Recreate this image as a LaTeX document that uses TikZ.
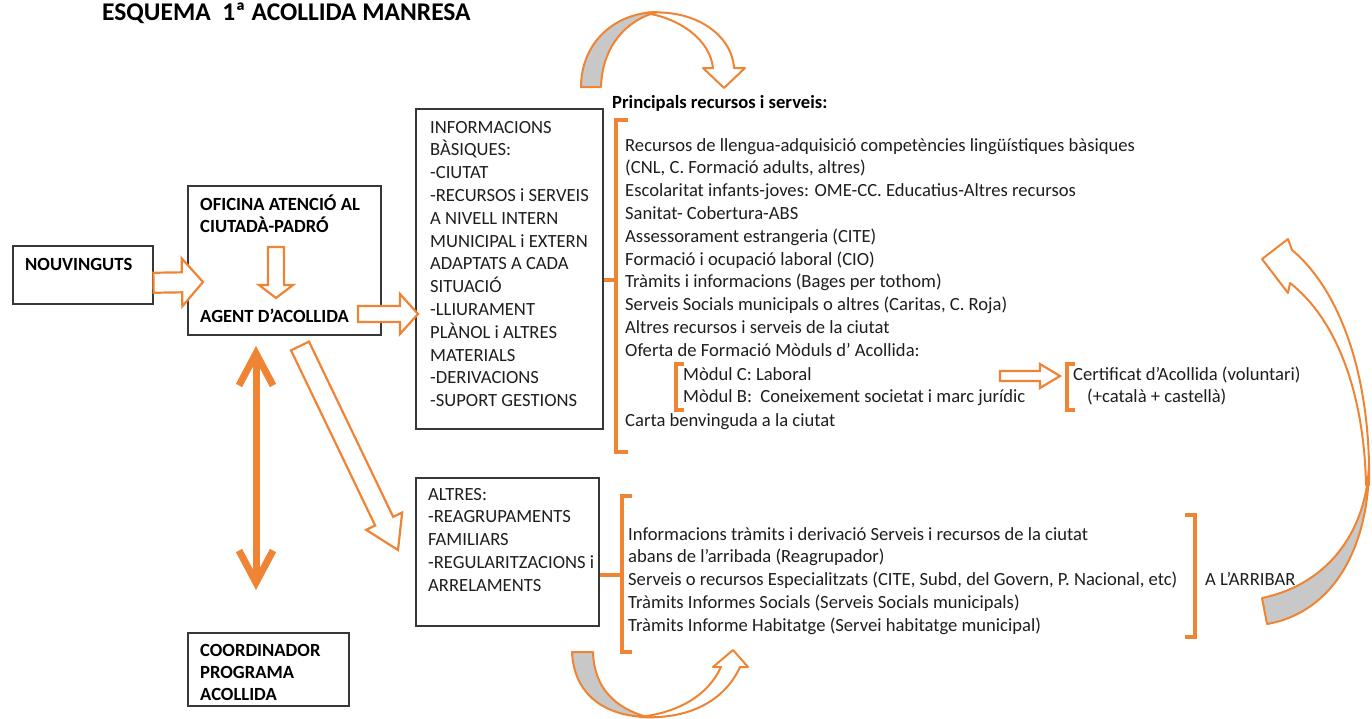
\documentclass[tikz,border=0pt]{standalone}
\usepackage{fontspec}
\setmainfont{Carlito}
\usetikzlibrary{calc,arrows.meta}
\definecolor{acorange}{RGB}{238,132,52}
\definecolor{acgray}{RGB}{200,200,200}
\definecolor{boxline}{RGB}{55,55,55}
\definecolor{txtgray}{RGB}{30,30,30}
\newcommand\bodyfont{\fontsize{18.6}{22.8}\selectfont}
\tikzset{
BOX/.style={draw=boxline, line width=1.5pt, anchor=north west, inner sep=0pt},
TXT/.style={anchor=north west, align=left, inner sep=0pt, text=txtgray, font=\bodyfont},
BTXT/.style={TXT, text=black, font=\bodyfont\bfseries},
HOLLOW/.style={draw=acorange, fill=white, line width=2.2pt, line join=miter},
RIBBON/.style={draw=acorange, line width=2pt, line join=round},
BRACKET/.style={draw=acorange, line width=3.4pt},
}
% hollow block arrow: from, to, half shaft, half head, head length
\newcommand\blockarrow[5]{%
  \coordinate (ba) at ($(#2)!#5!(#1)$);
  \draw[HOLLOW] ($(#1)!#3!90:(#2)$) -- ($(ba)!#3!90:(#2)$) -- ($(ba)!#4!90:(#2)$) -- (#2)
    -- ($(ba)!#4!-90:(#2)$) -- ($(ba)!#3!-90:(#2)$) -- ($(#1)!#3!-90:(#2)$) -- cycle;
}
\begin{document}
\begin{tikzpicture}[x=1pt,y=-1pt]
\useasboundingbox (0,0) rectangle (1372,718);
\node[anchor=north west, inner sep=0pt, font=\fontsize{25.5}{28}\selectfont\bfseries] (title) at (102,1)
	{\strut ESQUEMA\ \ 1ª ACOLLIDA MANRESA};
%Boxes
\node[BOX, minimum width=140pt, minimum height=58pt] (nouv) at (12,245) {};
\node[BOX, minimum width=193pt, minimum height=149pt] (ofic) at (187,185) {};
\node[BOX, minimum width=187pt, minimum height=320pt] (info) at (415,108) {};
\node[BOX, minimum width=183pt, minimum height=148pt] (altres) at (415,477) {};
\node[BOX, minimum width=161pt, minimum height=73pt] (coord) at (187,632) {};
\node[BTXT] (nouvtxt) at (25,254) {\strut NOUVINGUTS};
\node[BTXT] (ofictxt) at (200,194) {\strut OFICINA ATENCIÓ AL\\CIUTADÀ-PADRÓ};
\node[BTXT] (agent) at (200,306) {\strut AGENT D’ACOLLIDA};
\node[BTXT, font=\fontsize{18.6}{22}\selectfont\bfseries] (coordtxt) at (200,641) {\strut COORDINADOR\\PROGRAMA\\ACOLLIDA};
\node[TXT] (infotxt) at (430,117) {\strut INFORMACIONS\\BÀSIQUES:\\-CIUTAT\\-RECURSOS i SERVEIS\\A NIVELL INTERN\\MUNICIPAL i EXTERN\\ADAPTATS A CADA\\SITUACIÓ\\-LLIURAMENT\\PLÀNOL i ALTRES\\MATERIALS\\-DERIVACIONS\\-SUPORT GESTIONS};
\node[TXT] (altrestxt) at (428,484) {\strut ALTRES:\\-REAGRUPAMENTS\\FAMILIARS\\-REGULARITZACIONS i\\ARRELAMENTS};
%Resources
\node[BTXT] (princ) at (612,92) {\strut Principals recursos i serveis:};
\node[TXT] (recursos) at (625,135) {\strut Recursos de llengua-adquisició competències lingüístiques bàsiques\\
	(CNL, C. Formació adults, altres)\\
	Escolaritat infants-joves: OME-CC. Educatius-Altres recursos\\
	Sanitat- Cobertura-ABS\\
	Assessorament estrangeria (CITE)\\
	Formació i ocupació laboral (CIO)\\
	Tràmits i informacions (Bages per tothom)\\
	Serveis Socials municipals o altres (Caritas, C. Roja)\\
	Altres recursos i serveis de la ciutat\\
	Oferta de Formació Mòduls d’ Acollida:};
\node[TXT] (moduls) at (683,364) {\strut Mòdul C: Laboral\\Mòdul B:\ \ Coneixement societat i marc jurídic};
\node[TXT] (carta) at (625,410) {\strut Carta benvinguda a la ciutat};
\node[TXT] (certif) at (1073,364) {\strut Certificat d’Acollida (voluntari)\\\hspace*{14pt}(+català + castellà)};
\node[TXT] (arribada) at (628,524) {\strut Informacions tràmits i derivació Serveis i recursos de la ciutat\\
	abans de l’arribada (Reagrupador)\\
	Serveis o recursos Especialitzats (CITE, Subd, del Govern, P. Nacional, etc)\\
	Tràmits Informes Socials (Serveis Socials municipals)\\
	Tràmits Informe Habitatge (Servei habitatge municipal)};
\node[TXT] (arribar) at (1205,569) {\strut A L’ARRIBAR};
%Brackets
\draw[BRACKET] (628,120) -- (616,120) -- (616,452) -- (628,452);
\draw[BRACKET] (616,280) -- (info.east |- 0,280);
\draw[BRACKET] (684,364) -- (676,364) -- (676,410) -- (684,410);
\draw[BRACKET] (1075,364) -- (1067,364) -- (1067,410) -- (1075,410);
\draw[BRACKET] (632,496) -- (622,496) -- (622,652) -- (632,652);
\draw[BRACKET] (622,575) -- (altres.east |- 0,575);
\draw[BRACKET] (1185,515) -- (1195,515) -- (1195,637) -- (1185,637);
%Block arrows
\coordinate (n1) at ([yshift=-8pt]nouv.east);
\coordinate (n2) at (203,282);
\blockarrow{n1}{n2}{10pt}{24pt}{21pt}
\coordinate (o1) at (276,247);
\coordinate (o2) at (276,298);
\blockarrow{o1}{o2}{8pt}{17pt}{13pt}
\coordinate (g1) at (358,314);
\coordinate (g2) at (418,314);
\blockarrow{g1}{g2}{8pt}{20pt}{18pt}
\coordinate (d1) at (300,346);
\coordinate (d2) at (398,550);
\blockarrow{d1}{d2}{10pt}{20pt}{32pt}
\coordinate (m1) at (1000,376);
\coordinate (m2) at (1060,376);
\blockarrow{m1}{m2}{5pt}{12pt}{20pt}
%Coordinator link
\coordinate (c1) at (256,346);
\coordinate (c2) at (256,590);
\draw[acorange, line width=7pt, {Straight Barb[length=32pt,width=34pt]}-{Straight Barb[length=32pt,width=34pt]}] (c1) -- (c2);
%Curved arrows
\path[RIBBON, fill=white] (645,13) .. controls (695,8) and (732,35) .. (734,68) -- (745,68) -- (724,88) -- (703,68) -- (713,68)
	.. controls (710,40) and (680,18) .. (645,13) -- cycle;
\path[RIBBON, fill=acgray] (581,87) .. controls (581,45) and (612,13) .. (657,12)
	.. controls (626,20) and (602,47) .. (601,87) -- cycle;
\path[RIBBON, fill=white] (640,717) .. controls (690,720) and (725,700) .. (740,667) -- (748,667) -- (733,650) -- (713,667) -- (721,667)
	.. controls (708,695) and (680,712) .. (640,717) -- cycle;
\path[RIBBON, fill=acgray] (572,652) .. controls (574,695) and (605,716) .. (647,717)
	.. controls (615,708) and (594,688) .. (593,652) -- cycle;
\path[RIBBON, fill=white] (1369,485) .. controls (1371,380) and (1342,292) .. (1292,250) -- (1288,239) -- (1262,259) -- (1288,293) -- (1290,283)
	.. controls (1335,318) and (1364,390) .. (1366,485) -- cycle;
\path[RIBBON, fill=acgray] (1262,598) -- (1267,624) .. controls (1335,612) and (1369,545) .. (1369,465)
	.. controls (1366,535) and (1325,585) .. (1262,598) -- cycle;
\end{tikzpicture}
\end{document}
